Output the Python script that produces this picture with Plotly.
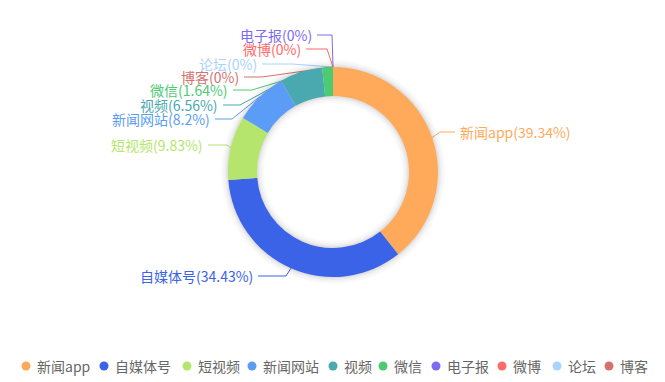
import math
import plotly.graph_objects as go

# ---------------- data ----------------
categories = ["新闻app", "自媒体号", "短视频", "新闻网站", "视频", "微信", "电子报", "微博", "论坛", "博客"]
percents = [39.34, 34.43, 9.83, 8.2, 6.56, 1.64, 0, 0, 0, 0]

# ---------------- style / layout ----------------
colors = ["#FFA95B", "#3A63E8", "#B5E56C", "#5B9DF6", "#4AA8AF", "#4CCB72",
          "#7C6BF5", "#FF6A6A", "#A9D4FF", "#D2736F"]
PAGE_W, PAGE_H = 665, 382
OFF = 8  # default page body margin
W, H = PAGE_W - OFF, PAGE_H - OFF
CX, CY, R, R_IN = 333, 172, 105, 76
FONT = "Noto Sans CJK SC, Microsoft YaHei, sans-serif"
FS = 14

# label leader layout: (bend_x, bend_y, line_end_x) in page pixels
label_layout = [
    (440, 132, 455),
    (286, 276, 258),
    (227, 145, 208),
    (232, 119, 215),
    (240, 105, 223),
    (252, 90, 233),
    (332, 35, 317),
    (327, 49, 306),
    (292, 64, 262),
    (262, 77, 244),
]
legend_x = [26, 104, 187, 252, 333, 383, 436, 502, 557, 609]
legend_y = 366


def px(x):
    return (x - OFF) / W


def py(y):
    return 1 - (y - OFF) / H


fig = go.Figure()

# soft shadow rings
for k, a in [(7, 0.018), (5, 0.025), (3, 0.035), (1.5, 0.045)]:
    ro, ri = R + k, R_IN - k
    fig.add_trace(go.Pie(
        values=[1], labels=["s"], hole=ri / ro, sort=False,
        marker=dict(colors=[f"rgba(0,0,0,{a})"], line=dict(width=0)),
        textinfo="none", hoverinfo="skip", showlegend=False,
        domain=dict(x=[px(CX - ro), px(CX + ro)], y=[py(CY + ro), py(CY - ro)]),
    ))

fig.add_trace(go.Pie(
    labels=categories, values=percents, hole=R_IN / R, sort=False,
    direction="clockwise", rotation=0,
    marker=dict(colors=colors, line=dict(width=0)),
    textinfo="none", textposition="none", showlegend=False,
    domain=dict(x=[px(CX - R), px(CX + R)], y=[py(CY + R), py(CY - R)]),
))

shapes = []
annotations = []
total = sum(percents)
cum = 0
for i, (cat, p) in enumerate(zip(categories, percents)):
    mid = (cum + p / 2) / total * 2 * math.pi
    cum += p
    sx, sy = CX + R * math.sin(mid), CY - R * math.cos(mid)
    bx, by, ex = label_layout[i]
    path = f"M {px(sx)} {py(sy)} L {px(bx)} {py(by)} L {px(ex)} {py(by)}"
    shapes.append(dict(type="path", path=path, xref="paper", yref="paper",
                       line=dict(color=colors[i], width=1), layer="below"))
    right = ex > bx
    annotations.append(dict(
        text=f"{cat}({p:g}%)", x=px(ex + (3 if right else -3)), y=py(by),
        xref="paper", yref="paper", xanchor="left" if right else "right",
        yanchor="middle", showarrow=False,
        font=dict(family=FONT, size=FS, color=colors[i])))

# legend (circles + text)
for i, cat in enumerate(categories):
    lx = legend_x[i]
    shapes.append(dict(type="circle", xref="paper", yref="paper",
                       x0=px(lx - 4.5), x1=px(lx + 4.5), y0=py(legend_y + 4.5), y1=py(legend_y - 4.5),
                       fillcolor=colors[i], line=dict(width=0)))
    annotations.append(dict(
        text=cat, x=px(lx + 9), y=py(legend_y), xref="paper", yref="paper",
        xanchor="left", yanchor="middle", showarrow=False,
        font=dict(family=FONT, size=FS, color="#666666")))

fig.update_layout(
    width=W, height=H, margin=dict(l=0, r=0, t=0, b=0),
    paper_bgcolor="white", plot_bgcolor="white",
    shapes=shapes, annotations=annotations, showlegend=False,
)
fig.write_html("out.html")
